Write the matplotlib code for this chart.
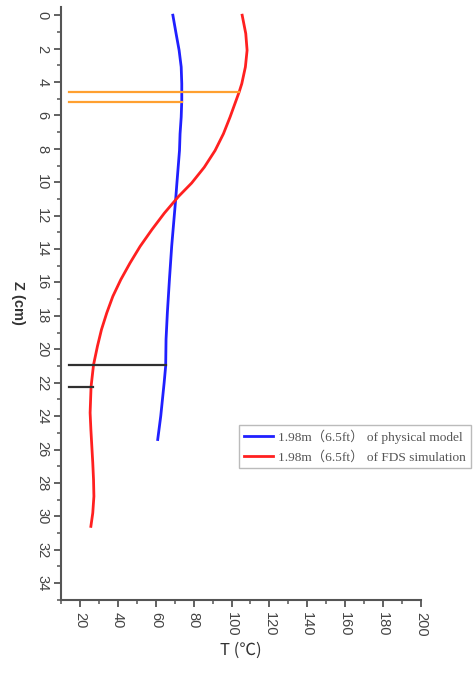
import numpy as np
import matplotlib
matplotlib.use('Agg')
import matplotlib.pyplot as plt
from matplotlib.ticker import MultipleLocator

# physical model (blue)
z_model = [0, 1.1, 2.1, 3.1, 4.1, 5.1, 6.1, 7.1, 8.1, 9.1, 10.1, 11.0, 13.8, 15.8,
           17.8, 19.4, 21.0, 22.0, 24.0, 25.4]
t_model = [69.0, 70.7, 72.3, 73.4, 73.7, 73.7, 73.4, 72.8, 72.5, 71.8, 71.1, 70.5,
           68.4, 67.2, 66.1, 65.4, 65.2, 64.4, 62.6, 61.0]

# FDS simulation (red)
z_fds = [0, 1.1, 2.1, 3.1, 4.1, 4.6, 5.1, 6.1, 7.1, 8.1, 9.1, 10.05, 10.85, 11.85,
         12.84, 13.84, 14.83, 15.83, 16.83, 17.82, 18.82, 19.8, 20.93, 22.24, 23.8,
         24.8, 25.8, 26.8, 27.8, 28.8, 29.8, 30.6]
t_fds = [105.6, 107.5, 108.2, 107.3, 105.4, 104.0, 102.4, 99.2, 95.7, 91.3, 85.6,
         78.9, 72.0, 64.5, 57.9, 51.7, 46.4, 41.5, 37.3, 34.1, 31.3, 29.2, 27.1,
         25.8, 25.3, 25.7, 26.2, 26.7, 27.1, 27.3, 26.7, 25.7]

# marker lines: (z, t_end)
orange_z = [4.58, 5.18]
orange_t = [104.0, 74.0]
black_z = [20.95, 22.26]
black_t = [65.4, 26.6]

fig = plt.figure(figsize=(4.74, 6.84), dpi=100)
ax = fig.add_axes([0.129, 0.123, 0.759, 0.867])

ax.plot(t_model, z_model, color='#2020ff', lw=2,
        label='1.98m（6.5ft） of physical model')
ax.plot(t_fds, z_fds, color='#ff2020', lw=2,
        label='1.98m（6.5ft） of FDS simulation')

for z, t in zip(orange_z, orange_t):
    ax.plot([14, t], [z, z], color='#ffa030', lw=1.6)
for z, t in zip(black_z, black_t):
    ax.plot([14, t], [z, z], color='#303030', lw=1.6)

ax.set_xlim(10, 200)
ax.set_ylim(35, -0.5)
ax.xaxis.set_major_locator(MultipleLocator(20))
ax.xaxis.set_minor_locator(MultipleLocator(10))
ax.yaxis.set_major_locator(MultipleLocator(2))
ax.yaxis.set_minor_locator(MultipleLocator(1))
ax.set_xticks(np.arange(20, 201, 20))
ax.set_yticks(np.arange(0, 35, 2))

for s in ['top', 'right']:
    ax.spines[s].set_visible(False)
for s in ['left', 'bottom']:
    ax.spines[s].set_color('#555555')
    ax.spines[s].set_linewidth(1.5)

ax.tick_params(which='major', direction='out', length=5, width=1.3, color='#555555',
               labelsize=10.5, labelcolor='#444444')
ax.tick_params(which='minor', direction='out', length=3, width=1.1, color='#555555')
for lab in ax.get_xticklabels() + ax.get_yticklabels():
    lab.set_rotation(270)
    lab.set_family('Liberation Sans')
for lab in ax.get_yticklabels():
    lab.set_va('center')

ax.set_ylabel('Z (cm)', fontsize=10.5, fontweight='bold', color='#333333', rotation=270,
              family='Liberation Sans')
ax.yaxis.set_label_coords(-0.14, 0.5)
ax.set_xlabel('T (℃)', fontsize=12, color='#333333', family=['Noto Sans CJK SC'])

leg = ax.legend(loc='upper left', bbox_to_anchor=(0.494, 0.295),
                prop={'family': ['Liberation Serif', 'Noto Sans CJK SC'], 'size': 9.6},
                frameon=True, fancybox=False, shadow=False, handlelength=2.2,
                borderpad=0.35, labelspacing=0.5, handletextpad=0.4, borderaxespad=0)
leg.get_frame().set_edgecolor('#aaaaaa')
leg.get_frame().set_linewidth(1.0)
for t in leg.get_texts():
    t.set_color('#555555')

fig.savefig('out.png', dpi=100)
